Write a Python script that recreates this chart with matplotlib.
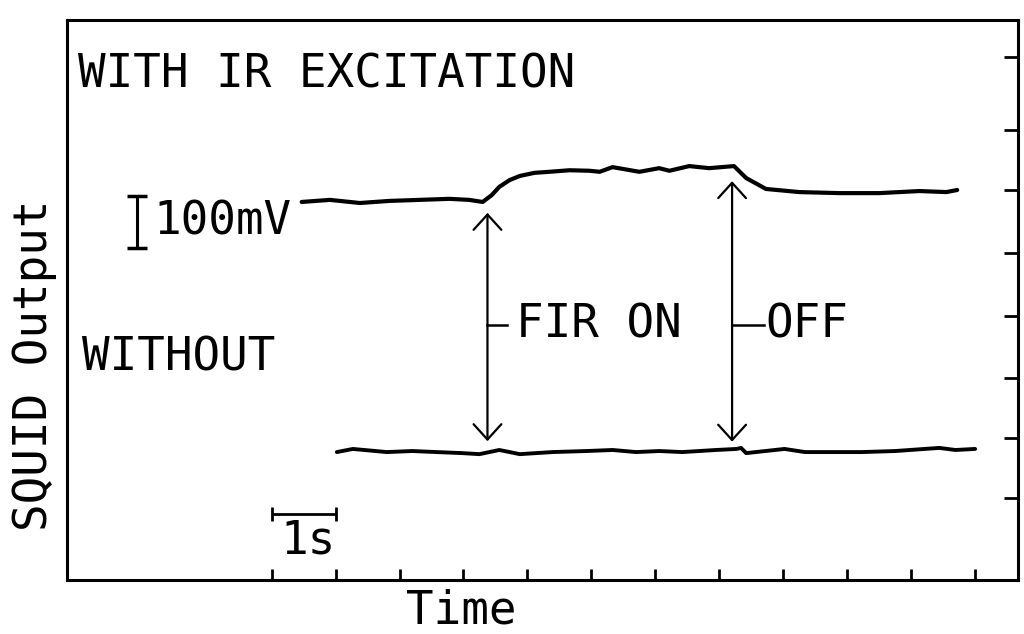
import matplotlib
matplotlib.use("Agg")
from matplotlib import pyplot as plt

# time in s, SQUID output in mV (offset so the bottom axis is 0)
with_ir_t = [0.47, 0.91, 1.38, 1.84, 2.31, 2.78, 3.09, 3.30, 3.44, 3.56, 3.72, 3.88,
             4.11, 4.34, 4.66, 4.97, 5.13, 5.33, 5.75, 6.06, 6.22, 6.53, 6.84, 7.23,
             7.42, 7.73, 8.25, 8.88, 9.50, 10.13, 10.55, 10.72]
with_ir_v = [727, 731, 725, 729, 731, 733, 731, 727, 740, 756, 769, 777,
             783, 785, 788, 787, 785, 794, 785, 792, 787, 796, 792, 796,
             773, 752, 746, 744, 744, 748, 746, 750]

without_t = [1.02, 1.27, 1.80, 2.20, 2.58, 2.98, 3.25, 3.56, 3.88, 4.39, 4.92, 5.33,
             5.70, 6.06, 6.42, 6.95, 7.27, 7.34, 7.42, 8.02, 8.34, 8.88, 9.23, 9.75,
             10.44, 10.69, 11.00]
without_v = [246, 252, 246, 248, 246, 244, 242, 250, 242, 246, 248, 250,
             246, 248, 246, 250, 252, 254, 244, 252, 246, 246, 246, 248,
             254, 250, 252]

# FIR switching times and arrow ends
fir_on_t = 3.375
fir_off_t = 7.20
on_arrow = (706, 267)
off_arrow = (767, 266)

time_ticks = list(range(12))
right_ticks = [158, 273, 388, 508, 629, 750, 865, 1006]

plt.rcParams["font.family"] = "DejaVu Sans Mono"
FS = 33

fig = plt.figure(figsize=(10.24, 6.34), dpi=100)
ax = fig.add_axes([0.0654, 0.0852, 0.9287, 0.8833])

ax.plot(with_ir_t, with_ir_v, color="black", lw=3.0, solid_capstyle="round")
ax.plot(without_t, without_v, color="black", lw=2.8, solid_capstyle="round")

# double arrows marking FIR on / off
for t, (top, bot) in [(fir_on_t, on_arrow), (fir_off_t, off_arrow)]:
    ax.annotate("", xy=(t, top), xytext=(t, bot),
                arrowprops=dict(arrowstyle="<->,head_length=0.55,head_width=0.5",
                                mutation_scale=20, lw=1.6, color="black",
                                shrinkA=0, shrinkB=0))

ax.plot([fir_on_t, fir_on_t + 0.3], [490, 490], color="black", lw=1.8)
ax.text(fir_on_t + 0.45, 490, "FIR ON", fontsize=FS, va="center", ha="left")
ax.plot([fir_off_t, fir_off_t + 0.5], [490, 490], color="black", lw=1.8)
ax.text(fir_off_t + 0.52, 490, "OFF", fontsize=FS, va="center", ha="left")

ax.text(-3.02, 971, "WITH IR EXCITATION", fontsize=FS, va="center", ha="left")
ax.text(-2.96, 427, "WITHOUT", fontsize=FS, va="center", ha="left")

# 100 mV scale bar
ax.errorbar([-2.11], [688], yerr=[50], fmt="none", ecolor="black",
            elinewidth=2.2, capsize=7, capthick=2.5)
ax.text(-1.85, 688, "100mV", fontsize=FS, va="center", ha="left")

# 1 s scale bar
ax.errorbar([0.5], [127], xerr=[0.5], fmt="none", ecolor="black",
            elinewidth=2.0, capsize=5, capthick=2.0)
ax.text(0.57, 75, "1s", fontsize=FS, va="center", ha="center")

ax.set_xlim(-3.2, 11.67)
ax.set_ylim(0, 1077)

ax.set_xticks(time_ticks)
ax.set_yticks(right_ticks)
ax.yaxis.tick_right()
ax.tick_params(axis="x", direction="in", length=8, width=2, labelbottom=False)
ax.tick_params(axis="y", direction="in", length=10, width=2, labelright=False)

for side in ["left", "right", "top", "bottom"]:
    ax.spines[side].set_linewidth(2.2)

ax.text(0.415, -0.055, "Time", transform=ax.transAxes, fontsize=FS,
        ha="center", va="center")
ax.text(-0.034, 0.384, "SQUID Output", transform=ax.transAxes, fontsize=FS,
        rotation=90, ha="center", va="center")

fig.savefig("out.png", dpi=100)
